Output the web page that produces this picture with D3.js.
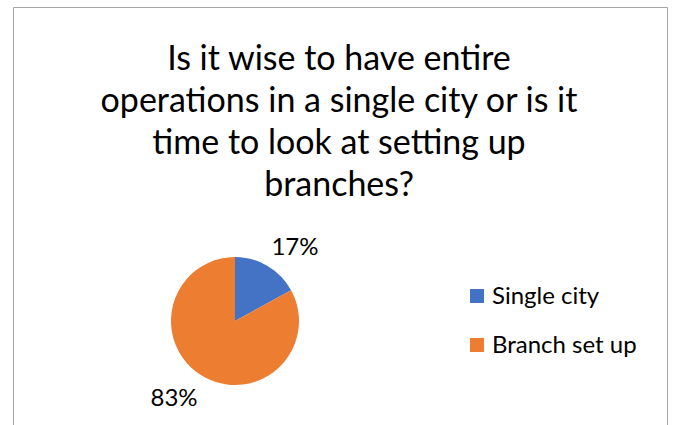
<!DOCTYPE html>
<html>
<head>
<meta charset="utf-8">
<script src="https://cdn.jsdelivr.net/npm/d3@7"></script>
<style>
  html, body { margin: 0; padding: 0; background: #fff; }
  svg { display: block; }
  text { font-family: Lato, "Liberation Sans", sans-serif; fill: #000; }
</style>
</head>
<body>
<svg id="chart" width="676" height="425"></svg>
<script>
// Survey answers
const categories = ["Single city", "Branch set up"];
const shares = [17, 83];
const colors = ["#4472C4", "#ED7D31"];
const titleLines = [
  "Is it wise to have entire",
  "operations in a single city or is it",
  "time to look at setting up",
  "branches?"
];

const svg = d3.select("#chart");

// Chart frame (open at the bottom)
svg.append("path")
  .attr("d", "M13.5,425 L13.5,7.5 L667.5,7.5 L667.5,425")
  .attr("fill", "none")
  .attr("stroke", "#a6a6a6")
  .attr("stroke-width", 1);

// Title
svg.append("g").selectAll("text")
  .data(titleLines)
  .join("text")
  .attr("x", 339)
  .attr("y", (d, i) => 70 + i * 42)
  .attr("text-anchor", "middle")
  .attr("font-size", 34)
  .text(d => d);

// Pie
const cx = 235, cy = 321, radius = 64;
const pie = d3.pie().sort(null).value(d => d)(shares);
const arc = d3.arc().innerRadius(0).outerRadius(radius);

const g = svg.append("g").attr("transform", `translate(${cx},${cy})`);
g.selectAll("path")
  .data(pie)
  .join("path")
  .attr("d", arc)
  .attr("fill", (d, i) => colors[i]);

// Percentage labels outside the slices
g.selectAll("text")
  .data(pie)
  .join("text")
  .attr("x", (d, i) => i === 0 ? 60 : -61)
  .attr("y", (d, i) => i === 0 ? -66 : 85)
  .attr("text-anchor", "middle")
  .attr("font-size", 24)
  .text(d => d.value + "%");

// Legend
const legend = svg.append("g").attr("transform", "translate(470,289)");
const items = legend.selectAll("g")
  .data(categories)
  .join("g")
  .attr("transform", (d, i) => `translate(0,${i * 49})`);
items.append("rect")
  .attr("width", 14).attr("height", 14)
  .attr("fill", (d, i) => colors[i]);
items.append("text")
  .attr("x", 22).attr("y", 15)
  .attr("font-size", 24)
  .text(d => d);
</script>
</body>
</html>
